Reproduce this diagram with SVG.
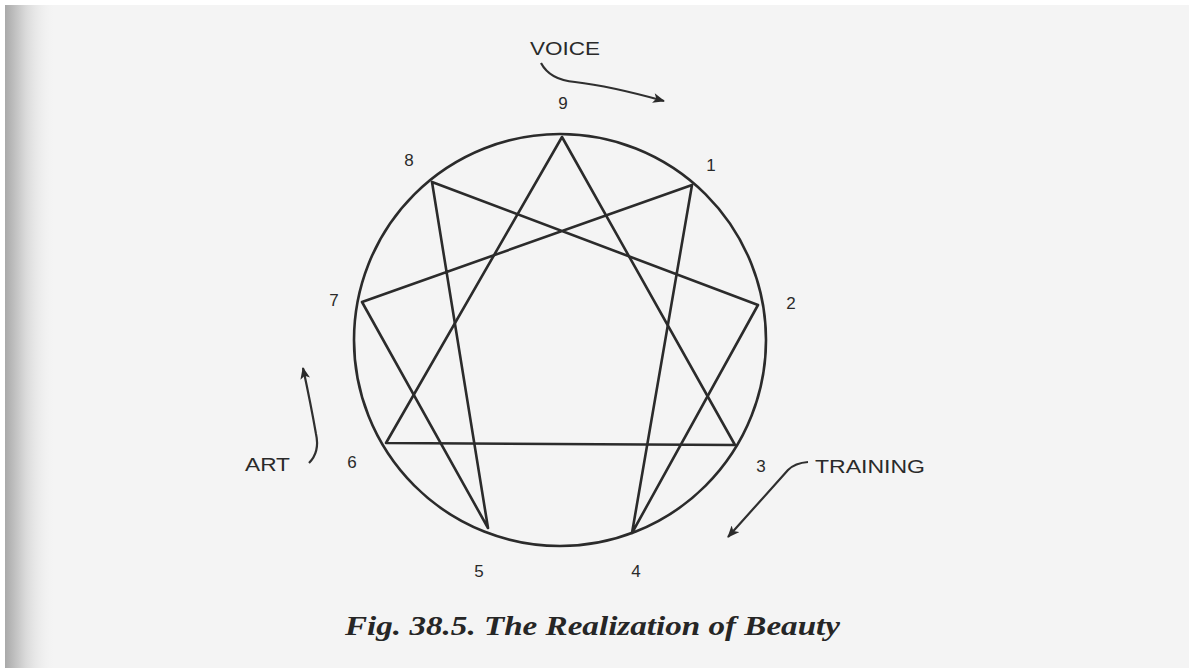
<svg xmlns="http://www.w3.org/2000/svg" width="1189" height="668" viewBox="0 0 1189 668">
<defs>
<linearGradient id="edge" x1="0" y1="0" x2="1" y2="0">
<stop offset="0" stop-color="#a9a9a9"/>
<stop offset="0.4" stop-color="#d8d8d8"/>
<stop offset="1" stop-color="#f2f2f2" stop-opacity="0"/>
</linearGradient>
<marker id="ah" viewBox="0 0 12 10" refX="11" refY="5" markerWidth="13" markerHeight="10" markerUnits="userSpaceOnUse" orient="auto">
<path d="M0,0 L12,5 L0,10 L3,5 Z" fill="#2a2a2a"/>
</marker>
<style>
.ln{fill:none;stroke:#2b2b2b;stroke-width:2.6;stroke-linejoin:round}
.ar{fill:none;stroke:#2f2f2f;stroke-width:2.2}
.num{font-family:"Liberation Sans",Arial,sans-serif;font-size:17px;fill:#2a2a2a;text-anchor:middle}
.lab{font-family:"Liberation Sans",Arial,sans-serif;font-size:19px;fill:#2a2a2a}
.cap{font-family:"Liberation Serif","Times New Roman",serif;font-style:italic;font-weight:bold;font-size:27px;fill:#262626}
</style>
</defs>
<rect x="0" y="0" width="1189" height="668" fill="#f4f4f4"/>
<rect x="5" y="0" width="50" height="668" fill="url(#edge)"/>
<rect x="0" y="0" width="5" height="668" fill="#ffffff"/>
<rect x="0" y="0" width="1189" height="5" fill="#ffffff"/>

<g id="connectors">
<circle cx="560" cy="340" r="206" class="ln"/>
<path class="ln" d="M562,137 L735,445 L386,443 Z"/>
<path class="ln" d="M692,185 L632,533 L758,305 L432,182 L488,528 L362,302 Z"/>
<path class="ar" d="M541,63 Q550,80 575,82 Q610,86 664,101" marker-end="url(#ah)"/>
<path class="ar" d="M309,463 Q320,452 316,434 Q311,405 303,368" marker-end="url(#ah)"/>
<path class="ar" d="M808,462 Q795,463 788,470 Q770,490 728,537" marker-end="url(#ah)"/>
</g>

<g id="n9"><text class="num" x="563" y="109">9</text></g>
<g id="n1"><text class="num" x="711" y="171">1</text></g>
<g id="n2"><text class="num" x="791" y="309">2</text></g>
<g id="n3"><text class="num" x="761" y="472">3</text></g>
<g id="n4"><text class="num" x="636" y="577">4</text></g>
<g id="n5"><text class="num" x="479" y="577">5</text></g>
<g id="n6"><text class="num" x="352" y="468">6</text></g>
<g id="n7"><text class="num" x="334" y="306">7</text></g>
<g id="n8"><text class="num" x="409" y="166">8</text></g>

<g id="voice"><text class="lab" x="530" y="55" textLength="70" lengthAdjust="spacingAndGlyphs">VOICE</text></g>
<g id="art"><text class="lab" x="245" y="471" textLength="45" lengthAdjust="spacingAndGlyphs">ART</text></g>
<g id="training"><text class="lab" x="815" y="473" textLength="110" lengthAdjust="spacingAndGlyphs">TRAINING</text></g>

<g id="caption"><text class="cap" x="345" y="635" textLength="495" lengthAdjust="spacingAndGlyphs">Fig. 38.5. The Realization of Beauty</text></g>
</svg>
